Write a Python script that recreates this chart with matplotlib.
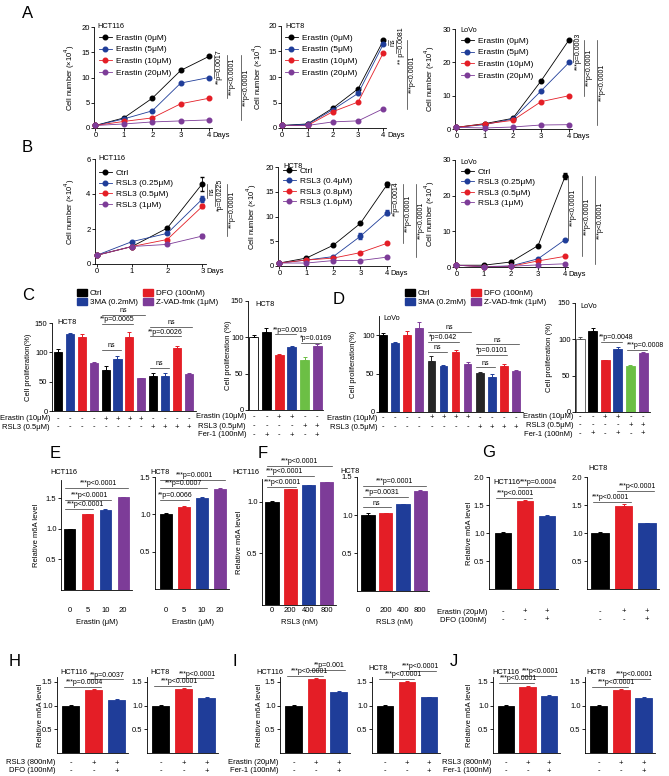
import matplotlib
matplotlib.use('Agg')
import matplotlib.pyplot as plt
import matplotlib.transforms as mtransforms
from matplotlib.patches import Patch
from matplotlib.lines import Line2D

plt.rcParams['font.family'] = ['Liberation Sans', 'DejaVu Sans']
plt.rcParams['font.size'] = 5.5
plt.rcParams['axes.linewidth'] = 0.6
for a in ('xtick', 'ytick'):
    plt.rcParams[a + '.major.width'] = 0.6
    plt.rcParams[a + '.major.size'] = 2.0
    plt.rcParams[a + '.major.pad'] = 1.2
    plt.rcParams[a + '.labelsize'] = 5.5

W, H = 669, 776
fig = plt.figure(figsize=(W / 100, H / 100), dpi=100)

BLACK = '#000000'; BLUE = '#1f3d99'; RED = '#e41e26'; PURPLE = '#7d3c98'; GREEN = '#6cbf45'
COL4 = [BLACK, BLUE, RED, PURPLE]

# ---------------- data ----------------
days4 = [0, 1, 2, 3, 4]
days3 = [0, 1, 2, 3]
erastin_labels = ['Erastin (0μM)', 'Erastin (5μM)', 'Erastin (10μM)', 'Erastin (20μM)']
a_hct116 = [[0.5, 2.0, 5.9, 11.4, 14.2], [0.5, 1.8, 3.4, 8.9, 10.0],
            [0.5, 1.3, 2.0, 4.8, 5.9], [0.5, 0.8, 1.2, 1.4, 1.6]]
a_hct8 = [[0.5, 0.8, 3.9, 7.7, 17.2], [0.5, 0.7, 3.6, 6.8, 16.5],
          [0.5, 0.5, 3.2, 5.1, 14.8], [0.5, 0.5, 1.2, 1.4, 3.8]]
a_lovo = [[0.5, 1.6, 3.2, 14.4, 26.8], [0.5, 1.3, 3.0, 11.4, 20.0],
          [0.5, 1.5, 2.6, 8.2, 10.0], [0.5, 0.3, 0.6, 1.2, 1.3]]

b_hct116_labels = ['Ctrl', 'RSL3 (0.25μM)', 'RSL3 (0.5μM)', 'RSL3 (1μM)']
b_hct116 = [[0.5, 1.0, 2.05, 4.6], [0.5, 1.28, 1.75, 3.72],
            [0.5, 1.0, 1.4, 3.3], [0.5, 1.0, 1.12, 1.6]]
b_hct116_err = [[0, 0, 0.05, 0.4], [0, 0, 0.05, 0.15], [0, 0, 0.05, 0.12], [0, 0, 0.05, 0.1]]
b_hct8_labels = ['Ctrl', 'RSL3 (0.4μM)', 'RSL3 (0.8μM)', 'RSL3 (1.6μM)']
b_hct8 = [[0.6, 1.6, 4.2, 8.6, 16.5], [0.6, 1.2, 1.9, 6.0, 10.8],
          [0.6, 1.2, 1.6, 2.7, 4.6], [0.6, 0.6, 1.1, 1.1, 1.8]]
b_hct8_err = [[0, 0, 0.2, 0.2, 0.5], [0, 0, 0.2, 0.6, 0.5], [0, 0, 0, 0.1, 0.1], [0, 0, 0, 0, 0.1]]
b_lovo_labels = ['Ctrl', 'RSL3 (0.25μM)', 'RSL3 (0.5μM)', 'RSL3 (1μM)']
b_lovo = [[0.5, 0.5, 1.4, 6.0, 25.5], [0.5, 0.1, 0.3, 2.3, 7.7],
          [0.5, 0.1, 0.2, 1.7, 3.0], [0.5, 0.1, 0.2, 0.6, 0.9]]
b_lovo_err = [[0, 0, 0, 0, 0.8], [0, 0, 0, 0, 0.2], [0, 0, 0, 0, 0.1], [0, 0, 0, 0, 0.1]]

cd_legend = ['Ctrl', '3MA (0.2mM)', 'DFO (100nM)', 'Z-VAD-fmk (1μM)']
c_vals = [100, 131, 126, 81, 70, 89, 126, 56, 59, 59, 107, 63]
c_errs = [5, 2, 5, 2, 6, 4, 8, 1, 6, 5, 3, 2]
cd_erastin = ['-', '-', '-', '-', '+', '+', '+', '+', '-', '-', '-', '-']
cd_rsl3 = ['-', '-', '-', '-', '-', '-', '-', '-', '+', '+', '+', '+']
c2_vals = [100, 107, 76, 87, 69, 88]
c2_errs = [3, 6, 1, 1, 4, 3]
fer_erastin = ['-', '-', '+', '+', '-', '-']
fer_rsl3 = ['-', '-', '-', '-', '+', '+']
fer_fer1 = ['-', '+', '-', '+', '-', '+']
d_vals = [100, 90, 100, 110, 67, 60, 78, 62, 51, 45, 60, 53]
d_errs = [3, 0.5, 5, 7, 6, 1, 3, 3, 1, 5, 3, 2]
d2_vals = [100, 111, 71, 87, 63, 81]
d2_errs = [3, 4, 1, 2, 1, 1]

e_doses = ['0', '5', '10', '20']
e_hct116 = [1.0, 1.24, 1.31, 1.52]
e_hct8 = [1.0, 1.10, 1.22, 1.34]
f_doses = ['0', '200', '400', '800']
f_hct116 = [1.0, 1.12, 1.16, 1.19]
f_hct8 = [1.0, 1.02, 1.14, 1.32]
g_hct116 = [1.0, 1.57, 1.30]
g_hct8 = [1.0, 1.49, 1.17]
h_hct116 = [1.0, 1.32, 1.12]
h_hct8 = [1.0, 1.35, 1.16]
i_hct116 = [1.0, 1.55, 1.28]
i_hct8 = [1.0, 1.50, 1.17]
j_hct116 = [1.0, 1.40, 1.20]
j_hct8 = [1.0, 1.33, 1.16]
treat_a = ['-', '+', '+']
treat_b = ['-', '-', '+']


# ---------------- helpers ----------------
def add_ax(l, r, t, b):
    ax = fig.add_axes([l / W, 1 - b / H, (r - l) / W, (b - t) / H])
    ax.spines['top'].set_visible(False)
    ax.spines['right'].set_visible(False)
    ax.patch.set_alpha(0)
    return ax


def px_text(x, y, s, **kw):
    fig.text(x / W, 1 - y / H, s, **kw)


def ax_frac(box, xpx, ypx):
    l, r, t, b = box
    return (xpx - l) / (r - l), (b - ypx) / (b - t)


def line_panel(box, days, series, labels, errs, ylim, yticks, title, title_px, leg_px,
               ylab_x, annots, spacing):
    ax = add_ax(*box)
    handles = []
    for i, vals in enumerate(series):
        e = errs[i] if errs is not None else None
        ax.errorbar(days, vals, yerr=e, color=COL4[i], marker='o', ms=3.3, lw=0.6,
                    capsize=1.5, elinewidth=0.6, clip_on=False, zorder=3)
        handles.append(Line2D([], [], color=COL4[i], marker='o', ms=3.3, lw=0.6))
    ax.set_xlim(-0.05, days[-1] + 0.1)
    ax.set_ylim(*ylim)
    ax.set_yticks(yticks)
    ax.set_xticks(days)
    ax.annotate('Days', xy=(days[-1], 0), xycoords=('data', 'axes fraction'),
                xytext=(2.5, -3.2), textcoords='offset points', ha='left', va='top', fontsize=5.5)
    ax.set_ylabel('Cell number (×10$^4$)', fontsize=5.5)
    fx, fy = ax_frac(box, ylab_x, 0)
    ax.yaxis.set_label_coords(fx, 0.5)
    tx, ty = ax_frac(box, *title_px)
    ax.text(tx, ty, title, transform=ax.transAxes, ha='left', va='center', fontsize=5.3)
    lx, ly = ax_frac(box, *leg_px)
    ax.legend(handles, labels, loc='upper left', bbox_to_anchor=(lx, ly), frameon=False,
              fontsize=6, handlelength=1.5, handletextpad=0.5,
              labelspacing=spacing, borderaxespad=0, borderpad=0)
    trans = mtransforms.blended_transform_factory(ax.transAxes, ax.transData)
    for xpx, y0, y1, txt in annots:
        xf, _ = ax_frac(box, xpx, 0)
        xt, _ = ax_frac(box, xpx + 2, 0)
        ax.plot([xf, xf], [y0, y1], transform=trans, clip_on=False, lw=0.5, color='#333333')
        ax.text(xt, (y0 + y1) / 2, txt, rotation=90, transform=trans, ha='left',
                va='center', fontsize=5)
    return ax


def bar_panel(box, vals, errs, colors, xlim, ylim, yticks, ytlabels, title, title_px,
              ylabel, ylab_x, annots, width=0.7, edgecolors=None, ecolors=None):
    ax = add_ax(*box)
    xs = list(range(len(vals)))
    for i, v in enumerate(vals):
        ec = edgecolors[i] if edgecolors else colors[i]
        ax.bar(i, v, width=width, color=colors[i], edgecolor=ec, linewidth=0.6, zorder=2)
        if errs is not None:
            ecol = ecolors[i] if ecolors else colors[i]
            ax.errorbar(i, v, yerr=[[0], [errs[i]]], color=ecol, capsize=1.6,
                        elinewidth=0.7, capthick=0.7, zorder=3)
    ax.set_xlim(*xlim)
    ax.set_ylim(*ylim)
    ax.set_yticks(yticks)
    ax.set_yticklabels(ytlabels)
    ax.set_xticks([])
    if ylabel:
        ax.set_ylabel(ylabel, fontsize=5.5)
        fx, _ = ax_frac(box, ylab_x, 0)
        ax.yaxis.set_label_coords(fx, 0.5)
    if title:
        tx, ty = ax_frac(box, *title_px)
        ax.text(tx, ty, title, transform=ax.transAxes, ha='left', va='center', fontsize=5.3)
    for x1, x2, y, txt, tx in annots:
        ax.plot([x1 - 0.3, x2 + 0.3], [y, y], color='#333333', lw=0.5, clip_on=False)
        ax.annotate(txt, xy=(tx, y), xytext=(0, 0.6), textcoords='offset points',
                    ha='center', va='bottom', fontsize=5, annotation_clip=False)
    return ax, xs


def sign_rows(ax, box, xs, rows, labels, ys, fs=5.5):
    tr = mtransforms.blended_transform_factory(ax.transData, fig.transFigure)
    for signs, lab, y in zip(rows, labels, ys):
        px_text(box[0] - 2, y, lab, ha='right', va='center', fontsize=fs)
        for x, s in zip(xs, signs):
            ax.text(x, 1 - y / H, s, transform=tr, ha='center', va='center', fontsize=fs,
                    clip_on=False)


def dose_row(ax, xs, ticks, xlabel, y1, y2, fs=5.5):
    tr = mtransforms.blended_transform_factory(ax.transData, fig.transFigure)
    for x, s in zip(xs, ticks):
        ax.text(x, 1 - y1 / H, s, transform=tr, ha='center', va='center', fontsize=fs)
    ax.text((xs[0] + xs[-1]) / 2, 1 - y2 / H, xlabel, transform=tr, ha='center',
            va='center', fontsize=fs)


# ---------------- panel letters ----------------
for lt, x, y in [('A', 22, 13), ('B', 22, 148), ('C', 22, 296), ('D', 333, 299),
                 ('E', 50, 454), ('F', 258, 454), ('G', 482, 452),
                 ('H', 9, 662), ('I', 232, 662), ('J', 450, 662)]:
    px_text(x, y, lt, fontsize=12, ha='left', va='center')

# ---------------- A ----------------
box = (94, 212, 27, 128)
line_panel(box, days4, a_hct116, erastin_labels, None, (0, 20), [0, 5, 10, 15, 20],
           'HCT116', (97, 27), (99, 34), 77,
           [(214, 14.4, 10.0, '**p=0.0017'), (227, 14.4, 5.9, '***p<0.0001'),
            (241, 14.4, 1.6, '***p<0.0001')], 0.45)
box = (281, 386, 26, 128)
line_panel(box, days4, a_hct8, erastin_labels, None, (0, 20), [0, 5, 10, 15, 20],
           'HCT8', (285, 27), (285, 34), 265,
           [(388, 17.3, 16.3, 'ns'), (396, 17.3, 14.8, '** p=0.0081'),
            (407, 17.3, 3.8, '***p<0.0001')], 0.45)
box = (455, 572, 29, 129)
line_panel(box, days4, a_lovo, erastin_labels, None, (0, 30), [0, 10, 20, 30],
           'LoVo', (460, 31), (461, 37), 437,
           [(573, 26.8, 20.0, '***p=0.0003'), (584, 26.8, 10.0, '***p<0.0001'),
            (597, 26.8, 1.3, '***p<0.0001')], 0.45)

# ---------------- B ----------------
box = (95, 206, 159, 264)
line_panel(box, days3, b_hct116, b_hct116_labels, b_hct116_err, (0, 6), [0, 2, 4, 6],
           'HCT116', (98, 159), (99, 169), 77,
           [(207, 4.6, 3.75, 'ns'), (215, 4.6, 3.3, '*p=0.0225'),
            (227, 4.6, 1.6, '***p=0.0001')], 0.33)
box = (278, 390, 167, 266)
line_panel(box, days4, b_hct8, b_hct8_labels, b_hct8_err, (0, 20), [0, 5, 10, 15, 20],
           'HCT8', (283, 166), (283, 167), 259,
           [(391, 16.5, 10.8, '**p=0.0014'), (403, 16.5, 4.6, '***p<0.0001'),
            (416, 16.5, 1.8, '***p<0.0001')], 0.3)
box = (455, 568, 160, 267)
line_panel(box, days4, b_lovo, b_lovo_labels, b_lovo_err, (0, 30), [0, 10, 20, 30],
           'LoVo', (460, 162), (461, 168), 437,
           [(568, 25.5, 7.7, '***p<0.0001'), (582, 25.5, 3.0, '***p<0.0001'),
            (595, 25.5, 0.9, '***p<0.0001')], 0.32)

# ---------------- C ----------------
col12 = COL4 * 3
box = (52, 196, 323, 411)
ax, xs = bar_panel(box, c_vals, c_errs, col12, (-0.5, 11.6), (0, 150), [0, 50, 100, 150],
                   ['0', '50', '100', '150'], 'HCT8', (57, 322), 'Cell proliferation(%)', 32,
                   [(4, 5, 103.6, 'ns', 4.5), (4, 6, 149, '**p=0.0065', 5.0),
                    (4, 7, 164, 'ns', 5.5), (8, 9, 74, 'ns', 8.5),
                    (8, 10, 127, '**p=0.0026', 9.0), (8, 11, 144, 'ns', 9.5)], width=0.68)
sign_rows(ax, box, xs, [cd_erastin, cd_rsl3], ['Erastin (10μM)', 'RSL3 (0.5μM)'], [419, 427])
fig.legend([Patch(color=c) for c in COL4], cd_legend, loc='upper left',
           bbox_to_anchor=(77 / W, 1 - 289 / H), ncol=2, frameon=False, fontsize=5.8,
           handlelength=1.3, handleheight=0.9, handletextpad=0.3, columnspacing=0.6,
           labelspacing=0.15, borderpad=0, borderaxespad=0)

col6 = ['white', BLACK, RED, BLUE, GREEN, PURPLE]
edge6 = [BLACK, BLACK, RED, BLUE, GREEN, PURPLE]
box = (248, 323, 301, 410)
ax, xs = bar_panel(box, c2_vals, c2_errs, col6, (-0.45, 5.45), (0, 150), [0, 50, 100, 150],
                   ['0', '50', '100', '150'], 'HCT8', (255, 305), 'Cell proliferation (%)', 232,
                   [(2, 3, 104, '**p=0.0019', 2.9), (4, 5, 92, '*p=0.0169', 4.9)],
                   width=0.72, edgecolors=edge6, ecolors=edge6)
sign_rows(ax, box, xs, [fer_erastin, fer_rsl3, fer_fer1],
          ['Erastin (10μM)', 'RSL3 (0.5μM)', 'Fer-1 (100nM)'], [417, 426, 435])

# ---------------- D ----------------
colD = [BLACK, BLUE, RED, PURPLE, '#262626', BLUE, RED, PURPLE, '#262626', BLUE, RED, PURPLE]
box = (379, 523, 316, 412)
ax, xs = bar_panel(box, d_vals, d_errs, colD, (-0.35, 11.6), (0, 125), [0, 50, 100],
                   ['0', '50', '100'], 'LoVo', (383, 318), 'Cell proliferation(%)', 357,
                   [(4, 5, 78, 'ns', 4.5), (4, 6, 91, '*p=0.042', 5.0),
                    (4, 7, 104, 'ns', 5.5), (8, 9, 58, 'ns', 8.5),
                    (8, 10, 74, '*p=0.0101', 9.0), (8, 11, 88, 'ns', 9.5)], width=0.65)
sign_rows(ax, box, xs, [cd_erastin, cd_rsl3], ['Erastin (10μM)', 'RSL3 (0.5μM)'], [418, 427])
fig.legend([Patch(color=c) for c in COL4], cd_legend, loc='upper left',
           bbox_to_anchor=(405 / W, 1 - 289 / H), ncol=2, frameon=False, fontsize=5.8,
           handlelength=1.3, handleheight=0.9, handletextpad=0.3, columnspacing=0.6,
           labelspacing=0.15, borderpad=0, borderaxespad=0)

edge6b = ['#555555', BLACK, RED, BLUE, GREEN, PURPLE]
box = (575, 650, 303, 412)
ax, xs = bar_panel(box, d2_vals, d2_errs, col6, (-0.4, 5.55), (0, 150), [0, 50, 100, 150],
                   ['0', '50', '100', '150'], 'LoVo', (580, 307), 'Cell proliferation (%)', 553,
                   [(2, 3, 96, '**p=0.0048', 2.9), (4, 5, 85, '***p=0.0008', 5.2)],
                   width=0.72, edgecolors=edge6b, ecolors=edge6b)
sign_rows(ax, box, xs, [fer_erastin, fer_rsl3, fer_fer1],
          ['Erastin (10μM)', 'RSL3 (0.5μM)', 'Fer-1 (100nM)'], [417, 425, 434])

# ---------------- E ----------------
m6a = 'Relative m6A level'
box = (61, 132, 480, 590)
ax, xs = bar_panel(box, e_hct116, [0.005, 0.01, 0.01, 0.01], COL4[:1] + [RED, BLUE, PURPLE],
                   (-0.5, 3.5), (0, 1.8), [0.5, 1.0, 1.5], ['0.5', '1.0', '1.5'],
                   'HCT116', (50, 472), m6a, 40,
                   [(0, 1, 1.32, '***p<0.0001', 0.9), (0, 2, 1.47, '***p<0.0001', 1.1),
                    (0, 3, 1.67, '***p<0.0001', 1.6)], width=0.62)
dose_row(ax, xs, e_doses, 'Erastin (μM)', 611, 623)
box = (155, 229, 477, 589)
ax, xs = bar_panel(box, e_hct8, [0.02, 0.01, 0.01, 0.01], [BLACK, RED, BLUE, PURPLE],
                   (-0.6, 3.5), (0, 1.5), [0.5, 1.0, 1.5], ['0.5', '1.0', '1.5'],
                   'HCT8', (150, 473), None, 0,
                   [(0, 1, 1.19, '**p=0.0066', 0.5), (0, 2, 1.35, '***p=0.0007', 1.0),
                    (0, 3, 1.46, '***p=0.0001', 1.6)], width=0.65)
dose_row(ax, xs, e_doses, 'Erastin (μM)', 611, 623)

# ---------------- F ----------------
box = (262, 336, 479, 605)
ax, xs = bar_panel(box, f_hct116, [0.005, 0.005, 0.005, 0.005], [BLACK, RED, BLUE, PURPLE],
                   (-0.55, 3.5), (0, 1.22), [0.5, 1.0], ['0.5', '1.0'],
                   'HCT116', (232, 473), m6a, 243,
                   [(0, 1, 1.14, '***p<0.0001', 0.6), (0, 2, 1.25, '***p<0.0001', 0.7),
                    (0, 3, 1.35, '***p<0.0001', 1.5)], width=0.72)
dose_row(ax, xs, f_doses, 'RSL3 (nM)', 611, 623)
box = (357, 429, 477, 591)
ax, xs = bar_panel(box, f_hct8, [0.02, 0.01, 0.01, 0.01], [BLACK, RED, BLUE, PURPLE],
                   (-0.64, 3.5), (0, 1.5), [0.5, 1.0, 1.5], ['0.5', '1.0', '1.5'],
                   'HCT8', (340, 472), None, 0,
                   [(0, 1, 1.10, 'ns', 0.5), (0, 2, 1.24, '**p=0.0031', 0.8),
                    (0, 3, 1.38, '***p=0.0001', 1.5)], width=0.78)
dose_row(ax, xs, f_doses, 'RSL3 (nM)', 611, 623)

# ---------------- G ----------------
col3 = [BLACK, RED, BLUE]
box = (489, 558, 477, 589)
ax, xs = bar_panel(box, g_hct116, [0.02, 0.02, 0.02], col3, (-0.64, 2.5), (0, 2.0),
                   [0.5, 1.0, 1.5, 2.0], ['0.5', '1.0', '1.5', '2.0'], 'HCT116', (493, 482),
                   m6a, 473,
                   [(0, 1, 1.63, '***p<0.0001', 0.55), (1, 2, 1.82, '***p=0.0004', 1.6)],
                   width=0.76)
sign_rows(ax, box, xs, [treat_a, treat_b], ['Erastin (20μM)', 'DFO (100nM)'], [612, 620])
box = (587, 659, 477, 589)
ax, xs = bar_panel(box, g_hct8, [0.02, 0.02, 0.01], col3, (-0.55, 2.5), (0, 2.0),
                   [0.5, 1.0, 1.5, 2.0], ['0.5', '1.0', '1.5', '2.0'], 'HCT8', (588, 469),
                   None, 0,
                   [(0, 1, 1.55, '***p<0.0001', 0.45), (1, 2, 1.75, '***p<0.0001', 1.6)],
                   width=0.75)
tr = mtransforms.blended_transform_factory(ax.transData, fig.transFigure)
for row, y in zip([treat_a, treat_b], [612, 620]):
    for x, s in zip(xs, row):
        ax.text(x, 1 - y / H, s, transform=tr, ha='center', va='center', fontsize=5.5)


# ---------------- H, I, J ----------------
def small_pair(lbox, rbox, lvals, rvals, lann, rann, rowlabels, ylab_x, ltitle_px, rtitle_px):
    ax1, xs1 = bar_panel(lbox, lvals, [0.02, 0.02, 0.02], col3, (-0.6, 2.5), (0, 1.6),
                         [0.5, 1.0, 1.5], ['0.5', '1.0', '1.5'], 'HCT116', ltitle_px,
                         m6a, ylab_x, lann, width=0.75)
    sign_rows(ax1, lbox, xs1, [treat_a, treat_b], rowlabels, [763, 771])
    ax2, xs2 = bar_panel(rbox, rvals, [0.01, 0.01, 0.01], col3, (-0.6, 2.5), (0, 1.6),
                         [0.5, 1.0, 1.5], ['0.5', '1.0', '1.5'], 'HCT8', rtitle_px,
                         None, 0, rann, width=0.75)
    tr2 = mtransforms.blended_transform_factory(ax2.transData, fig.transFigure)
    for row, y in zip([treat_a, treat_b], [763, 771]):
        for x, s in zip(xs2, row):
            ax2.text(x, 1 - y / H, s, transform=tr2, ha='center', va='center', fontsize=5.5)


small_pair((57, 128, 677, 753), (147, 218, 677, 753), h_hct116, h_hct8,
           [(0, 1, 1.40, '***p=0.0004', 0.6), (1, 2, 1.55, '**p=0.0037', 1.6)],
           [(0, 1, 1.42, '***p<0.0001', 0.8), (1, 2, 1.57, '***p<0.0001', 1.6)],
           ['RSL3 (800nM)', 'DFO (100nM)'], 44, (60, 672), (150, 672))
small_pair((280, 350, 677, 753), (372, 440, 677, 753), i_hct116, i_hct8,
           [(0, 1, 1.62, '***p<0.0001', 0.7), (1, 2, 1.75, '**p=0.001', 1.6)],
           [(0, 1, 1.56, '***p<0.0001', 0.85), (1, 2, 1.72, '***p<0.0001', 1.6)],
           ['Erastin (20μM)', 'Fer-1 (100nM)'], 263, (256, 672), (368, 668))
small_pair((493, 560, 677, 753), (585, 655, 677, 753), j_hct116, j_hct8,
           [(0, 1, 1.47, '***p<0.0001', 0.6), (1, 2, 1.62, '***p<0.0001', 1.6)],
           [(0, 1, 1.40, '***p<0.0001', 0.8), (1, 2, 1.56, '***p<0.0001', 1.6)],
           ['RSL3 (800nM)', 'Fer-1 (100nM)'], 473, (492, 672), (586, 672))

fig.savefig('out.png', dpi=100)
